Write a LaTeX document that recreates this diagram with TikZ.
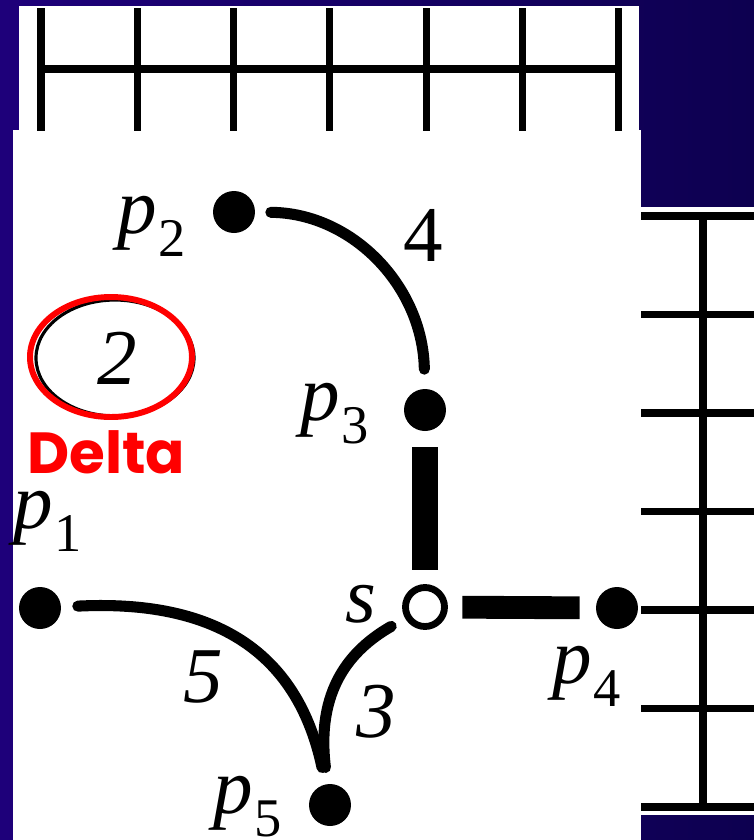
\documentclass[tikz,border=0pt]{standalone}
\usepackage{fontspec}
\setmainfont{Liberation Serif}
\newfontfamily\deltafont{Poppins}
\definecolor{navyL}{RGB}{30,0,122}
\definecolor{navyR}{RGB}{13,0,80}
\newcommand{\plab}[2]{\textit{#1}\kern1pt\raisebox{-13.5pt}{\fontsize{31}{31}\selectfont #2}}
\tikzset{
  dot/.style={circle,fill=black,inner sep=0pt,minimum size=0.84cm},
  ring/.style={circle,draw=black,fill=white,line width=3.9pt,inner sep=0pt,minimum size=0.78cm},
  edgeline/.style={line width=6.3pt,line cap=round},
  gridline/.style={line width=4pt},
  lbl/.style={inner sep=0pt,font=\fontsize{45}{50}\selectfont},
}

\begin{document}
\begin{tikzpicture}[x=0.02cm,y=-0.02cm]
  \useasboundingbox (0,0) rectangle (754,840);
  \shade[left color=navyL,right color=navyR] (0,0) rectangle (754,840);

  % white panels
  \fill[white] (19,6) rectangle (639,130);
  \fill[white] (13,130) rectangle (641,840);
  \fill[white] (641,207) rectangle (754,815);

  % grids
  \foreach \i in {0,...,6}
    \draw[gridline] ({41+96.3*\i},8) -- ({41+96.3*\i},131);
  \draw[gridline] (41,69) -- (619,69);
  \foreach \j in {0,...,6}
    \draw[gridline] (641,{216+98.5*\j}) -- (754,{216+98.5*\j});
  \draw[gridline] (703,216) -- (703,807);

  % points
  \node[dot] (p1) at (40,608) {};
  \node[dot] (p2) at (234,212) {};
  \node[dot] (p3) at (425,410) {};
  \node[ring] (s) at (425,607) {};
  \node[dot] (p4) at (617,608) {};
  \node[dot] (p5) at (330,805) {};

  % edges
  \draw[edgeline,shorten <=0.31cm,shorten >=0.39cm] (p2) .. controls (353,213) and (423,287) .. (p3);
  \draw[edgeline,shorten <=0.33cm,shorten >=0.34cm] (p1) .. controls (200,600) and (295,640) .. (p5);
  \draw[edgeline,shorten <=0.32cm,shorten >=0.33cm] (s) .. controls (350,650) and (316,690) .. (p5);
  \draw[line width=14.7pt,shorten <=0.32cm,shorten >=0.29cm] (p3) -- (s);
  \draw[line width=13pt,shorten <=0.29cm,shorten >=0.32cm] (s) -- (p4);

  % labels
  \node[lbl,anchor=base west] (lp1) at (13,528) {\plab{p}{1}};
  \node[lbl,anchor=base west] (lp2) at (117,233) {\plab{p}{2}};
  \node[lbl,anchor=base west] (lp3) at (300,420) {\plab{p}{3}};
  \node[lbl,anchor=base west] (lp4) at (552,683) {\plab{p}{4}};
  \node[lbl,anchor=base west] (lp5) at (213,813) {\plab{p}{5}};
  \node[lbl,anchor=base west] (ls) at (345,622) {\textit{s}};
  \node[lbl] (w4) at (423,235) {4};
  \node[lbl] (w5) at (203,677) {\textit{5}};
  \node[lbl] (w3) at (376,712) {\textit{3}};

  % delta
  \draw[black,line width=1.8pt] (115,358) ellipse [x radius=79, y radius=58];
  \draw[red,line width=3.4pt] (111,357) ellipse [x radius=81, y radius=60];
  \node[lbl] (w2) at (117,358) {\textit{2}};
  \node[anchor=base west,text=red,inner sep=0pt,font=\deltafont\bfseries\fontsize{33}{36}\selectfont] (delta) at (27,473) {Delta};
\end{tikzpicture}
\end{document}
